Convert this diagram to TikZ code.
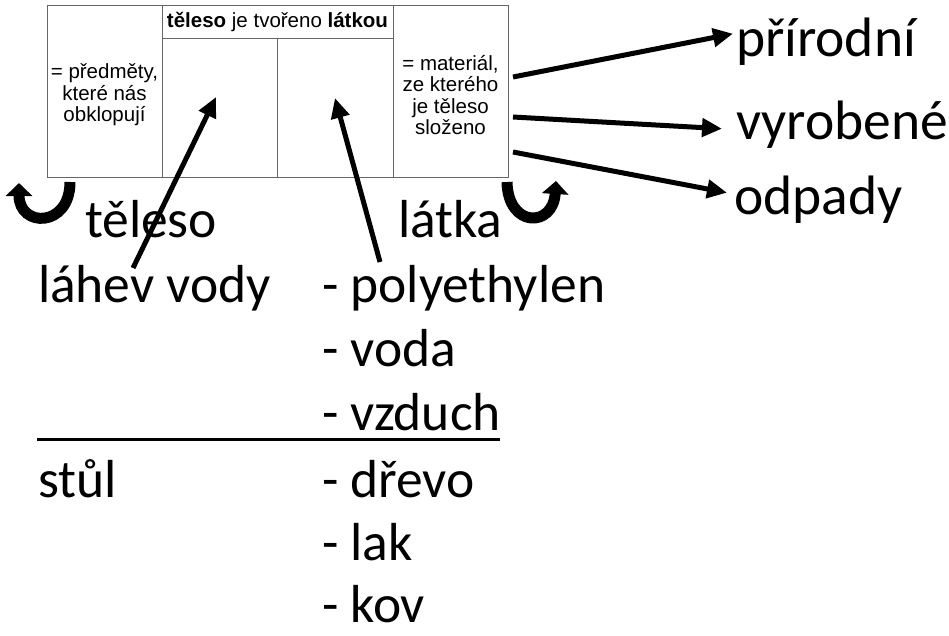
\documentclass[tikz,border=0pt]{standalone}
\usepackage{fontspec}
\setmainfont{Carlito}
\newfontfamily\cellfont{Liberation Sans}
\usetikzlibrary{arrows.meta,positioning}

\begin{document}
\begin{tikzpicture}[x=1pt, y=-1pt,
  every node/.style = {inner sep=0pt, outer sep=0pt},
  big/.style = {font=\fontsize{53.5}{64}\selectfont, anchor=base west},
  side/.style = {font=\fontsize{55.5}{66}\selectfont, anchor=base west},
  grid/.style = {draw=black!60, line width=0.9pt},
  celltext/.style = {font=\cellfont\fontsize{20.5}{21.5}\selectfont, align=center},
  arr/.style = {line width=5pt, -{Triangle[length=20pt,width=18pt]}},
  turn/.style = {line width=11pt, -{Triangle[length=13pt,width=26pt]}}]

  \useasboundingbox (0,0) rectangle (949,635);

  % the table
  \draw[grid] (47,5) rectangle (508,177);
  \draw[grid] (162,5) -- (162,177) (393,5) -- (393,177)
    (162,38) -- (393,38) (277,38) -- (277,177);

  \node[celltext] (head) at (277.5,22)
    {\textbf{těleso} je tvořeno \textbf{látkou}};
  \node[celltext] (cellL) at (104.5,95)
    {= předměty,\\které nás\\obklopují};
  \node[celltext] (cellR) at (450.5,95)
    {= materiál,\\ze kterého\\je těleso\\složeno};

  \coordinate (colT) at (216,97);
  \coordinate (colL) at (335,98);

  % labels under the table
  \node[big] (teleso) at (85,237) {těleso};
  \node[big] (latka) at (398,237) {látka};

  \node[big] (lahev) at (38,302) {láhev vody};
  \node[big] (polyeth) at (322,302) {- polyethylen};
  \node[big] (voda) at (322,366) {- voda};
  \node[big] (vzduch) at (322,430) {- vzduch};
  \node[big] (stul) at (38,497) {stůl};
  \node[big] (drevo) at (322,497) {- dřevo};
  \node[big] (lak) at (322,560) {- lak};
  \node[big] (kov) at (322,622) {- kov};

  \coordinate (lineA) at (37,439);
  \coordinate (lineB) at (500,439);
  \draw[line width=3pt] (lineA) -- (lineB);

  % kinds of matter
  \node[side] (prirodni) at (736,56) {přírodní};
  \node[side] (vyrobene) at (736,139) {vyrobené};
  \node[side] (odpady) at (734,214) {odpady};

  \coordinate (out1) at (513,77);
  \coordinate (out2) at (513,117);
  \coordinate (out3) at (513,152);
  \draw[arr] (out1) -- ([shift={(-3,-7.5)}]prirodni.west);
  \draw[arr] (out2) -- ([shift={(-14,4.5)}]vyrobene.west);
  \draw[arr] (out3) -- ([shift={(-7,-6.5)}]odpady.west);

  \coordinate (upT) at (133,268);
  \coordinate (upL) at (380,262);
  \draw[arr] (upT) -- (colT);
  \draw[arr] (upL) -- (colL);

  % u-turn arrows
  \coordinate (turnL) at (70,182);
  \coordinate (turnR) at (507,182);
  \draw[turn] (turnL) .. controls (70,228) and (19,228) .. (19,183);
  \draw[turn] (turnR) .. controls (508,228) and (553,228) .. (556,181);
\end{tikzpicture}
\end{document}
